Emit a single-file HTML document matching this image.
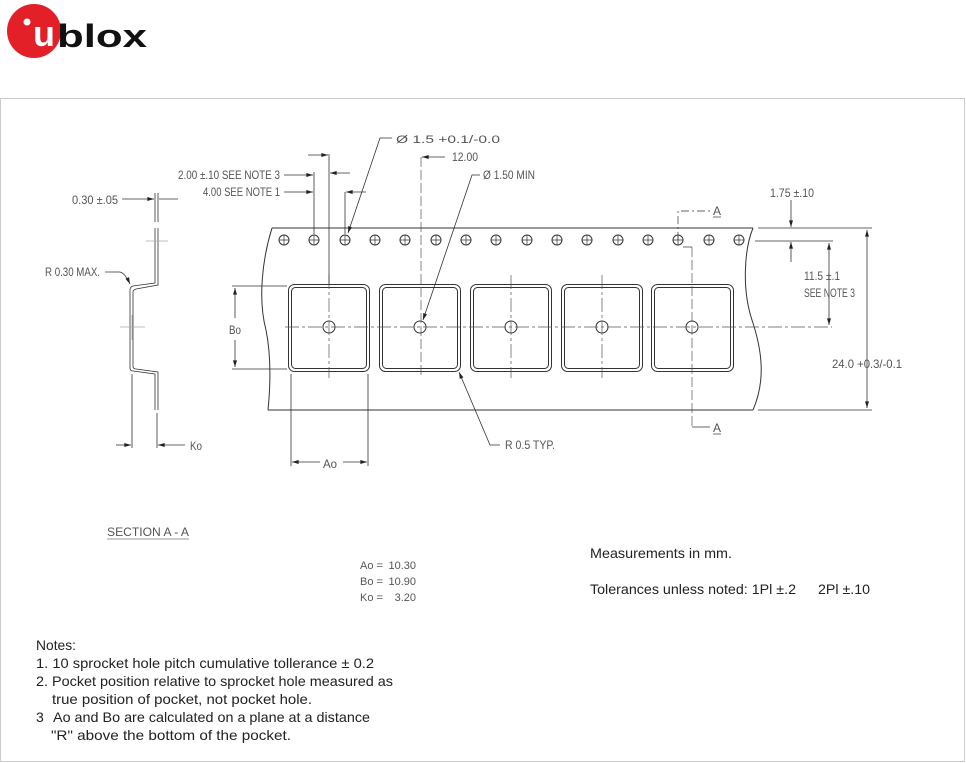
<!DOCTYPE html>
<html><head><meta charset="utf-8"><style>
html,body{margin:0;padding:0;background:#fff;width:966px;height:763px;overflow:hidden}
svg{display:block}
.c{font-family:"Liberation Sans Narrow","Liberation Sans",sans-serif;fill:#555;font-size:12px}
.n{font-family:"Liberation Sans",sans-serif;fill:#222;font-size:14px}
</style></head><body>
<svg width="966" height="763" viewBox="0 0 966 763" xmlns="http://www.w3.org/2000/svg">
<defs>
<marker id="a" viewBox="0 0 10 6" refX="10" refY="3" markerWidth="10" markerHeight="4" orient="auto-start-reverse" markerUnits="userSpaceOnUse"><path d="M0,0L10,3L0,6z" fill="#222"/></marker>
</defs>
<!-- logo -->
<circle cx="34" cy="31" r="27" fill="#e32028"/>
<text x="33" y="46" font-family="Liberation Sans,sans-serif" font-weight="bold" font-size="36" fill="#fff" textLength="22" lengthAdjust="spacingAndGlyphs">u</text>
<circle cx="27" cy="22" r="3.5" fill="#fff"/>
<text x="57" y="47" font-family="Liberation Sans,sans-serif" font-weight="bold" font-size="32" fill="#111" textLength="90" lengthAdjust="spacingAndGlyphs">blox</text>
<!-- frame -->
<rect x="0.5" y="98.5" width="964" height="663" fill="none" stroke="#ccc"/>

<g stroke="#333" stroke-width="1" fill="none">
<line x1="272" y1="228" x2="753" y2="228"/>
<line x1="268" y1="410" x2="753" y2="410"/>
<path d="M272,228 C262,260 258,300 266,330 C272,360 270,390 268,410"/>
<path d="M753,228 C744,250 742,290 752,320 C762,350 766,380 753,410"/>
<g>
<circle cx="284" cy="240" r="5"/><circle cx="314" cy="240" r="5"/><circle cx="345" cy="240" r="5"/><circle cx="375" cy="240" r="5"/><circle cx="405" cy="240" r="5"/><circle cx="436" cy="240" r="5"/><circle cx="466" cy="240" r="5"/><circle cx="496" cy="240" r="5"/><circle cx="527" cy="240" r="5"/><circle cx="557" cy="240" r="5"/><circle cx="587" cy="240" r="5"/><circle cx="618" cy="240" r="5"/><circle cx="648" cy="240" r="5"/><circle cx="678" cy="240" r="5"/><circle cx="709" cy="240" r="5"/><circle cx="739" cy="240" r="5"/>
</g>
<g stroke-width="0.7">
<path d="M279,240h10M284,235v10M309,240h10M314,235v10M340,240h10M345,235v10M370,240h10M375,235v10M400,240h10M405,235v10M431,240h10M436,235v10M461,240h10M466,235v10M491,240h10M496,235v10M522,240h10M527,235v10M552,240h10M557,235v10M582,240h10M587,235v10M613,240h10M618,235v10M643,240h10M648,235v10M673,240h10M678,235v10M704,240h10M709,235v10M734,240h10M739,235v10"/>
</g>
<rect x="288.5" y="284.5" width="81" height="87" rx="6"/><rect x="291.5" y="287.5" width="75" height="81" rx="4"/>
<rect x="379.5" y="284.5" width="81" height="87" rx="6"/><rect x="382.5" y="287.5" width="75" height="81" rx="4"/>
<rect x="470.5" y="284.5" width="81" height="87" rx="6"/><rect x="473.5" y="287.5" width="75" height="81" rx="4"/>
<rect x="561.5" y="284.5" width="81" height="87" rx="6"/><rect x="564.5" y="287.5" width="75" height="81" rx="4"/>
<rect x="651.5" y="284.5" width="82" height="87" rx="6"/><rect x="654.5" y="287.5" width="76" height="81" rx="4"/>
<circle cx="329" cy="327" r="6"/><circle cx="420" cy="327" r="6"/><circle cx="511" cy="327" r="6"/><circle cx="602" cy="327" r="6"/><circle cx="692" cy="327" r="6"/>
<g stroke-width="0.7" stroke="#555" stroke-dasharray="14,3,3,3">
<line x1="285" y1="327" x2="832" y2="327"/>
<line x1="329" y1="275" x2="329" y2="378"/>
<line x1="511" y1="275" x2="511" y2="378"/>
<line x1="602" y1="275" x2="602" y2="378"/>
</g>
<g stroke-width="0.7" stroke="#555" stroke-dasharray="10,3">
<line x1="421" y1="157" x2="421" y2="378"/>
<line x1="692" y1="247" x2="692" y2="427"/>
</g>
<path d="M678,240 v-29 h33" stroke-width="0.7" stroke-dasharray="8,3,2,3"/>
<path d="M683,247 h9" stroke-width="0.7"/>
<path d="M692,427 h18" stroke-width="0.7"/>
<line x1="713" y1="217" x2="721" y2="217" stroke-width="0.7"/>
<line x1="713" y1="434" x2="721" y2="434" stroke-width="0.7"/>

<g stroke-width="0.8">
<line x1="758" y1="228" x2="872" y2="228"/>
<line x1="758" y1="410" x2="872" y2="410"/>
<line x1="755" y1="241" x2="833" y2="241"/>
<line x1="867" y1="230" x2="867" y2="408" marker-start="url(#a)" marker-end="url(#a)"/>
<line x1="829" y1="243" x2="829" y2="325" marker-start="url(#a)" marker-end="url(#a)"/>
<line x1="791" y1="200" x2="791" y2="227" marker-end="url(#a)"/>
<line x1="791" y1="262" x2="791" y2="242" marker-end="url(#a)"/>
</g>
<g stroke-width="0.8">
<line x1="314" y1="172" x2="314" y2="234"/>
<line x1="329" y1="154" x2="329" y2="285"/>
<line x1="345" y1="192" x2="345" y2="234"/>
<line x1="308" y1="155" x2="328" y2="155" marker-end="url(#a)"/>
<line x1="350" y1="173" x2="330" y2="173" marker-end="url(#a)"/>
<line x1="284" y1="175" x2="313" y2="175" marker-end="url(#a)"/>
<line x1="284" y1="192" x2="313" y2="192" marker-end="url(#a)"/>
<line x1="366" y1="192" x2="346" y2="192" marker-end="url(#a)"/>
<line x1="445" y1="157" x2="422" y2="157" marker-end="url(#a)"/>
<path d="M392,138 h-12 L348,233" marker-end="url(#a)"/>
<path d="M480,175 h-8 L423,320" marker-end="url(#a)"/>
<path d="M500,445 h-10 L459,372" marker-end="url(#a)"/>
<line x1="232" y1="286" x2="287" y2="286"/>
<line x1="232" y1="369" x2="287" y2="369"/>
<line x1="235" y1="288" x2="235" y2="318" marker-start="url(#a)"/>
<line x1="235" y1="340" x2="235" y2="367" marker-end="url(#a)"/>
<line x1="291" y1="374" x2="291" y2="466"/>
<line x1="368" y1="374" x2="368" y2="466"/>
<line x1="320" y1="462" x2="292" y2="462" marker-end="url(#a)"/>
<line x1="343" y1="462" x2="367" y2="462" marker-end="url(#a)"/>
</g>
<g stroke-width="0.8">
<path d="M155,228 V283 L133,286 Q130,287 130,290 V368 Q130,371 133,371 L155,374 V410"/>
<path d="M158,228 V285 L136,289 Q133,290 133,292 V366 Q133,369 136,369 L158,372 V410"/>
<line x1="146" y1="241" x2="168" y2="241" stroke="#aaa"/>
<line x1="120" y1="327" x2="145" y2="327" stroke="#aaa"/>
<line x1="132" y1="315" x2="132" y2="340" stroke="#aaa"/>
<line x1="155" y1="193" x2="155" y2="222"/>
<line x1="158" y1="193" x2="158" y2="222"/>
<line x1="122" y1="199" x2="154" y2="199" marker-end="url(#a)"/>
<line x1="178" y1="199" x2="159" y2="199"/>
<line x1="132" y1="374" x2="132" y2="448"/>
<line x1="157" y1="413" x2="157" y2="448"/>
<line x1="116" y1="445" x2="131" y2="445" marker-end="url(#a)"/>
<line x1="185" y1="445" x2="158" y2="445" marker-end="url(#a)"/>
<path d="M105,272 h15 Q125,273 130,284" marker-end="url(#a)"/>
</g>
</g>

<g class="c">
<text x="396" y="143" font-size="11" textLength="104" lengthAdjust="spacingAndGlyphs">Ø 1.5 +0.1/-0.0</text>
<text x="452" y="161" textLength="26" lengthAdjust="spacingAndGlyphs">12.00</text>
<text x="178" y="179" textLength="102" lengthAdjust="spacingAndGlyphs">2.00 ±.10 SEE NOTE 3</text>
<text x="203" y="196" textLength="77" lengthAdjust="spacingAndGlyphs">4.00 SEE NOTE 1</text>
<text x="483" y="179" textLength="52" lengthAdjust="spacingAndGlyphs">Ø 1.50 MIN</text>
<text x="72" y="204" textLength="46" lengthAdjust="spacingAndGlyphs">0.30 ±.05</text>
<text x="45" y="276" textLength="55" lengthAdjust="spacingAndGlyphs">R 0.30 MAX.</text>
<text x="229" y="334" textLength="12" lengthAdjust="spacingAndGlyphs">Bo</text>
<text x="323" y="468" textLength="14" lengthAdjust="spacingAndGlyphs">Ao</text>
<text x="190" y="450" textLength="12" lengthAdjust="spacingAndGlyphs">Ko</text>
<text x="505" y="449" textLength="50" lengthAdjust="spacingAndGlyphs">R 0.5 TYP.</text>
<text x="770" y="197" textLength="44" lengthAdjust="spacingAndGlyphs">1.75 ±.10</text>
<text x="804" y="280" textLength="36" lengthAdjust="spacingAndGlyphs">11.5 ±.1</text>
<text x="804" y="297" textLength="51" lengthAdjust="spacingAndGlyphs">SEE NOTE 3</text>
<text x="832" y="368" textLength="70" lengthAdjust="spacingAndGlyphs">24.0 +0.3/-0.1</text>
<text x="713" y="215" textLength="8" lengthAdjust="spacingAndGlyphs">A</text>
<text x="713" y="432" textLength="8" lengthAdjust="spacingAndGlyphs">A</text>
<text x="107" y="536" textLength="82" lengthAdjust="spacingAndGlyphs">SECTION A - A</text>
<text x="360" y="569" font-size="11">Ao =</text><text x="416" y="569" font-size="11" text-anchor="end">10.30</text>
<text x="360" y="585" font-size="11">Bo =</text><text x="416" y="585" font-size="11" text-anchor="end">10.90</text>
<text x="360" y="601" font-size="11">Ko =</text><text x="416" y="601" font-size="11" text-anchor="end">3.20</text>
</g>
<line x1="107" y1="539" x2="189" y2="539" stroke="#777" stroke-width="0.8"/>

<g class="n">
<text x="590" y="558" textLength="142" lengthAdjust="spacingAndGlyphs">Measurements in mm.</text>
<text x="590" y="594" textLength="206" lengthAdjust="spacingAndGlyphs">Tolerances unless noted: 1Pl ±.2</text>
<text x="818" y="594" textLength="52" lengthAdjust="spacingAndGlyphs">2Pl ±.10</text>
<text x="36" y="650" textLength="40" lengthAdjust="spacingAndGlyphs">Notes:</text>
<text x="36" y="668" textLength="338" lengthAdjust="spacingAndGlyphs">1. 10 sprocket hole pitch cumulative tollerance ± 0.2</text>
<text x="36" y="686" textLength="357" lengthAdjust="spacingAndGlyphs">2. Pocket position relative to sprocket hole measured as</text>
<text x="52" y="704" textLength="260" lengthAdjust="spacingAndGlyphs">true position of pocket, not pocket hole.</text>
<text x="36" y="722">3</text>
<text x="53" y="722" textLength="317" lengthAdjust="spacingAndGlyphs">Ao and Bo are calculated on a plane at a distance</text>
<text x="51" y="740" textLength="240" lengthAdjust="spacingAndGlyphs">"R" above the bottom of the pocket.</text>
</g>
</svg>
</body></html>
